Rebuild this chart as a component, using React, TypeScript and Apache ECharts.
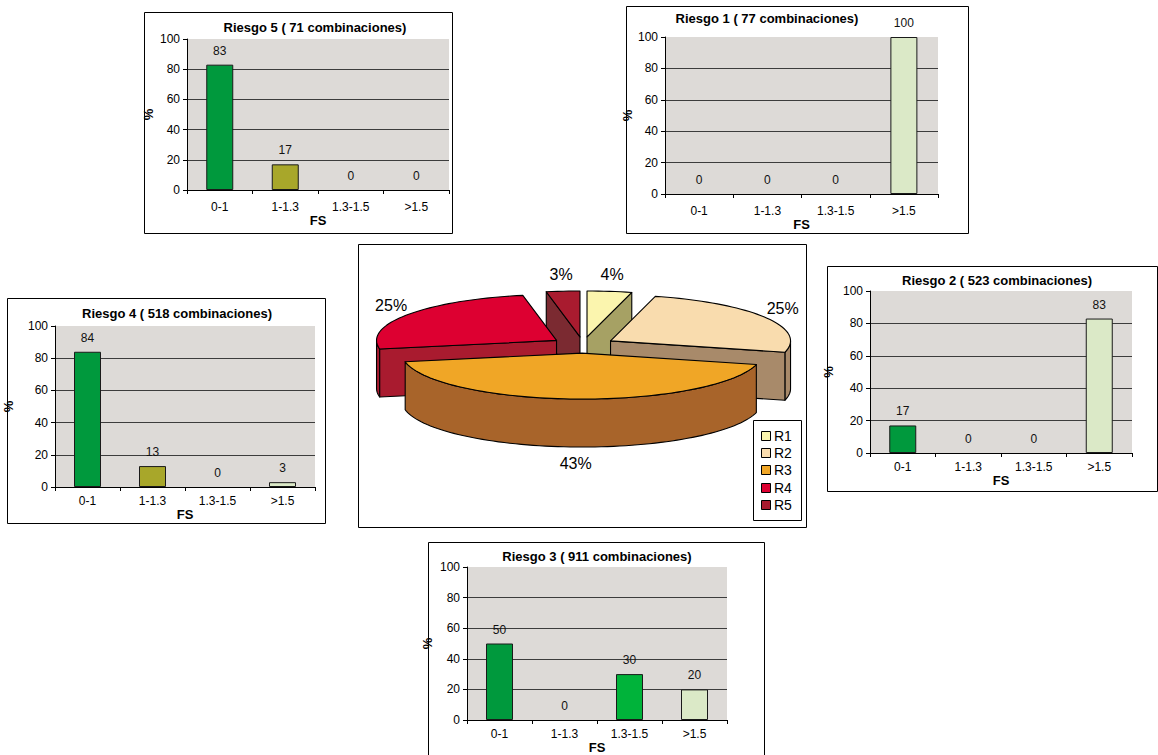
import React, { useEffect, useRef } from 'react';
import * as echarts from 'echarts';

// Factor-of-safety classes shared by every risk histogram
const fsCategories = ['0-1', '1-1.3', '1.3-1.5', '>1.5'];

// Percentage of combinations per FS class, one list per risk level
const riesgo5 = [83, 17, 0, 0];
const riesgo1 = [0, 0, 0, 100];
const riesgo4 = [84, 13, 0, 3];
const riesgo2 = [17, 0, 0, 83];
const riesgo3 = [50, 0, 30, 20];

const riskTitles = [
  'Riesgo 5 ( 71 combinaciones)',
  'Riesgo 1 ( 77 combinaciones)',
  'Riesgo 4 ( 518 combinaciones)',
  'Riesgo 2 ( 523 combinaciones)',
  'Riesgo 3 ( 911 combinaciones)',
];

// Share of each risk level over all combinations (central pie)
const pieNames = ['R1', 'R2', 'R3', 'R4', 'R5'];
const pieShares = [4, 25, 43, 25, 3];

// Palettes
const fsColors = ['#00993d', '#a8a72a', '#00b33a', '#dbe9c7'];
const pieTopColors = ['#fbf5ae', '#f9dcae', '#f0a626', '#dd0031', '#a91b2f'];
const pieSideColors = ['#a6a164', '#a88a6a', '#a8642a', '#a91b2f', '#7b2a31'];

const FONT = '"Liberation Sans", Arial, Helvetica, sans-serif';

// Panel placement: frame box, plot rect [left, top, right, bottom], title centre
const panels = [
  { title: riskTitles[0], values: riesgo5, box: [144, 12, 452, 233], plot: [187, 39, 449, 190], titleAt: [315, 27], yGap: 32, xGap: 23, labelMargin: 11 },
  { title: riskTitles[1], values: riesgo1, box: [626, 6, 968, 233], plot: [665, 37, 938, 194], titleAt: [767, 18], yGap: 30, xGap: 23, labelMargin: 11 },
  { title: riskTitles[2], values: riesgo4, box: [7, 298, 325, 523], plot: [55, 326, 315, 487], titleAt: [177, 313], yGap: 40, xGap: 18, labelMargin: 8 },
  { title: riskTitles[3], values: riesgo2, box: [827, 266, 1157, 491], plot: [870, 291, 1132, 453], titleAt: [997, 280], yGap: 35, xGap: 17, labelMargin: 8 },
  { title: riskTitles[4], values: riesgo3, box: [428, 542, 764, 760], plot: [467, 567, 727, 720], titleAt: [597, 556], yGap: 33, xGap: 16, labelMargin: 8 },
];

// 3D exploded pie geometry
const PIE = { cx: 583, cy: 345, rx: 180, k: 0.255, depth: 48, explode: 32, labelRx: 232, labelRy: 71 };
const pieBox = [358, 244, 806, 527];
const legendBox = [753, 420, 801, 520];

const pieTotal = pieShares.reduce((a, b) => a + b, 0);
const pieStarts: number[] = [];
{
  let acc = 0;
  for (const v of pieShares) {
    pieStarts.push((acc / pieTotal) * 360);
    acc += v;
  }
}

const rad = (d: number) => (d * Math.PI) / 180;

function renderSlice(params: any, api: any) {
  const i = params.dataIndex;
  const share = api.value(1);
  const a0 = pieStarts[i];
  const a1 = a0 + (share / pieTotal) * 360;
  const mid = (a0 + a1) / 2;
  const { cx, cy, rx, k, depth, explode } = PIE;
  const ox = cx + explode * Math.sin(rad(mid));
  const oy = cy - explode * Math.cos(rad(mid)) * k;
  const pt = (deg: number, dy = 0): number[] => [ox + rx * Math.sin(rad(deg)), oy - rx * Math.cos(rad(deg)) * k + dy];
  const arc = (s: number, e: number, dy = 0) => {
    const pts: number[][] = [];
    const n = Math.max(2, Math.ceil(Math.abs(e - s) / 2));
    for (let j = 0; j <= n; j++) pts.push(pt(s + ((e - s) * j) / n, dy));
    return pts;
  };
  const front = -Math.cos(rad(mid));
  const sideZ = Math.round(50 + 40 * front);
  const stroke = { stroke: '#000', lineWidth: 1.1, lineJoin: 'round' };
  const children: any[] = [];

  // curved outer wall, only the half facing the viewer
  const s = Math.max(a0, 90);
  const e = Math.min(a1, 270);
  if (e > s) {
    children.push({
      type: 'polygon',
      z2: sideZ,
      shape: { points: [...arc(s, e), ...arc(e, s, depth)] },
      style: { fill: pieSideColors[i], ...stroke },
    });
  }
  const apex = [ox, oy];
  const radialFace = (deg: number) => ({
    type: 'polygon',
    z2: sideZ + 1,
    shape: { points: [apex, pt(deg), pt(deg, depth), [ox, oy + depth]] },
    style: { fill: pieSideColors[i], ...stroke },
  });
  if (a0 > 180 && a0 < 360) children.push(radialFace(a0));
  const a1m = a1 % 360;
  if (a1m > 0 && a1m < 180) children.push(radialFace(a1));

  // top face
  children.push({
    type: 'polygon',
    z2: 200,
    shape: { points: [apex, ...arc(a0, a1)] },
    style: { fill: pieTopColors[i], ...stroke },
  });

  // percentage label outside the rim
  const lx = cx + PIE.labelRx * Math.sin(rad(mid));
  const ly = cy - PIE.labelRy * Math.cos(rad(mid)) + (front > 0 ? depth : 0);
  children.push({
    type: 'text',
    z2: 300,
    x: lx,
    y: ly,
    style: {
      text: `${share}%`,
      fill: '#000',
      fontSize: 16,
      fontFamily: FONT,
      align: 'center',
      verticalAlign: 'middle',
      textAlign: 'center',
      textVerticalAlign: 'middle',
    },
  });
  return { type: 'group', children };
}

function buildOption(): any {
  const grid: any[] = [];
  const xAxis: any[] = [];
  const yAxis: any[] = [];
  const series: any[] = [];
  const graphic: any[] = [];

  panels.forEach((p, idx) => {
    const [l, t, r, b] = p.plot;
    grid.push({
      left: l,
      top: t,
      width: r - l,
      height: b - t,
      show: true,
      backgroundColor: '#dddad7',
      borderWidth: 0,
    });
    xAxis.push({
      type: 'category',
      gridIndex: idx,
      data: fsCategories,
      name: 'FS',
      nameLocation: 'middle',
      nameGap: p.xGap,
      nameTextStyle: { fontWeight: 'bold', fontSize: 13, color: '#000', fontFamily: FONT },
      axisLine: { show: true, lineStyle: { color: '#000', width: 1 } },
      axisTick: { show: true, length: 4, lineStyle: { color: '#000' } },
      axisLabel: { color: '#000', fontSize: 12, fontFamily: FONT, margin: p.labelMargin, interval: 0 },
      splitLine: { show: false },
    });
    yAxis.push({
      type: 'value',
      gridIndex: idx,
      min: 0,
      max: 100,
      interval: 20,
      name: '%',
      nameLocation: 'middle',
      nameGap: p.yGap,
      nameTextStyle: { fontWeight: 'bold', fontSize: 13, color: '#000', fontFamily: FONT },
      axisLine: { show: true, lineStyle: { color: '#000', width: 1 } },
      axisTick: { show: true, length: 4, lineStyle: { color: '#000' } },
      axisLabel: { color: '#000', fontSize: 12, fontFamily: FONT, margin: 7 },
      splitLine: {
        show: true,
        lineStyle: { color: ['transparent', '#3c3c3c', '#3c3c3c', '#3c3c3c', '#3c3c3c', 'transparent'], width: 1 },
      },
    });
    series.push({
      type: 'bar',
      name: p.title,
      xAxisIndex: idx,
      yAxisIndex: idx,
      barWidth: 27,
      data: p.values.map((v, j) => ({
        value: v,
        itemStyle: { color: fsColors[j], borderWidth: v === 0 ? 0 : 1 },
      })),
      itemStyle: { borderColor: '#1a1a1a', borderWidth: 1 },
      label: { show: true, position: 'top', distance: 8, fontSize: 12, color: '#111', fontFamily: FONT },
    });
    const [bx0, by0, bx1, by1] = p.box;
    graphic.push({
      type: 'rect',
      silent: true,
      shape: { x: bx0 + 0.5, y: by0 + 0.5, width: bx1 - bx0, height: by1 - by0 },
      style: { fill: 'none', stroke: '#000', lineWidth: 1 },
    });
    graphic.push({
      type: 'text',
      silent: true,
      x: p.titleAt[0],
      y: p.titleAt[1],
      style: {
        text: p.title,
        fill: '#000',
        fontSize: 13,
        fontWeight: 'bold',
        fontFamily: FONT,
        align: 'center',
        verticalAlign: 'middle',
        textAlign: 'center',
        textVerticalAlign: 'middle',
      },
    });
  });

  // pie frame
  graphic.push({
    type: 'rect',
    silent: true,
    shape: { x: pieBox[0] + 0.5, y: pieBox[1] + 0.5, width: pieBox[2] - pieBox[0], height: pieBox[3] - pieBox[1] },
    style: { fill: 'none', stroke: '#000', lineWidth: 1 },
  });

  // pie legend
  const [lx0, ly0, lx1, ly1] = legendBox;
  graphic.push({
    type: 'rect',
    silent: true,
    z: 10,
    shape: { x: lx0 + 0.5, y: ly0 + 0.5, width: lx1 - lx0, height: ly1 - ly0 },
    style: { fill: '#fff', stroke: '#000', lineWidth: 1 },
  });
  pieNames.forEach((name, i) => {
    const cyRow = ly0 + 16 + i * 17.2;
    graphic.push({
      type: 'rect',
      silent: true,
      z: 11,
      shape: { x: lx0 + 8.5, y: Math.round(cyRow - 5) + 0.5, width: 9, height: 9 },
      style: { fill: pieTopColors[i], stroke: '#000', lineWidth: 1 },
    });
    graphic.push({
      type: 'text',
      silent: true,
      z: 11,
      x: lx0 + 21,
      y: cyRow,
      style: {
        text: name,
        fill: '#000',
        fontSize: 14,
        fontFamily: FONT,
        align: 'left',
        verticalAlign: 'middle',
        textAlign: 'left',
        textVerticalAlign: 'middle',
      },
    });
  });

  series.push({
    type: 'custom',
    name: 'Riesgos',
    coordinateSystem: 'none',
    silent: true,
    data: pieShares.map((v, i) => [i, v]),
    renderItem: renderSlice,
  });

  return {
    animation: false,
    backgroundColor: '#ffffff',
    textStyle: { fontFamily: FONT },
    grid,
    xAxis,
    yAxis,
    series,
    graphic,
  };
}

export default function App() {
  const ref = useRef<HTMLDivElement>(null);
  useEffect(() => {
    if (!ref.current) return;
    const chart = echarts.init(ref.current, null, { renderer: 'svg' });
    chart.setOption(buildOption());
    return () => chart.dispose();
  }, []);
  return (
    <div
      ref={ref}
      style={{ position: 'absolute', left: 0, top: 0, width: 1158, height: 755, background: '#fff' }}
    />
  );
}
